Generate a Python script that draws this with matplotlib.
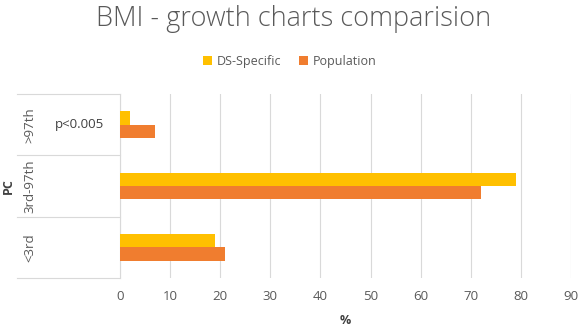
import matplotlib
matplotlib.use("Agg")
import matplotlib.pyplot as plt
import numpy as np

categories = ["<3rd", "3rd-97th", ">97th"]
ds_specific = [19, 79, 2]
population = [21, 72, 7]
series_names = ["DS-Specific", "Population"]
xticks = [0, 10, 20, 30, 40, 50, 60, 70, 80, 90]
annotation = "p<0.005"

plt.rcParams['font.family'] = ['Open Sans', 'DejaVu Sans']
W, H = 580, 327
fig = plt.figure(figsize=(W/100, H/100), dpi=100)
ax = fig.add_axes([120/W, 1-278/H, 451/W, (278-94)/H])

y = np.arange(len(categories))
bh = 0.22
c1, c2 = "#FFC000", "#F07D2F"
ax.barh(y + bh/2, ds_specific, height=bh, color=c1, label=series_names[0], zorder=3)
ax.barh(y - bh/2, population, height=bh, color=c2, label=series_names[1], zorder=3)

ax.set_xlim(0, 90)
ax.set_ylim(-0.5, len(categories)-0.5)
ax.set_xticks(xticks)
ax.set_xticklabels([str(t) for t in xticks], color="#595959", fontsize=9.5)
ax.tick_params(axis='x', length=0, pad=9)
ax.set_yticks([])
ax.grid(axis='x', color="#D9D9D9", linewidth=0.8, zorder=0)
for s in ['top', 'right', 'bottom']:
    ax.spines[s].set_visible(False)
ax.spines['left'].set_color("#D9D9D9")
ax.spines['left'].set_linewidth(0.8)

# category labels and separators
left_frac = (17-120)/451
for i, cat in enumerate(categories):
    ax.text((30-120)/451, i, cat, rotation=90, transform=ax.get_yaxis_transform(),
            ha='center', va='center', color="#595959", fontsize=9.5)
for b in np.arange(-0.5, len(categories), 1.0):
    ax.plot([left_frac, 0], [b, b], transform=ax.get_yaxis_transform(),
            color="#D9D9D9", linewidth=0.8, clip_on=False)
ax.text((79-120)/451, 2, annotation, transform=ax.get_yaxis_transform(),
        ha='center', va='center', color="#404040", fontsize=9.5)

fig.text(8/W, 1-186/H, "PC", rotation=90, ha='center', va='center',
         fontsize=9, fontweight='bold', color="#404040")
fig.text(345/W, 1-321/H, "%", ha='center', va='center',
         fontsize=9, fontweight='bold', color="#404040")

fig.text(294/W, 1-19/H, "BMI - growth charts comparision", ha='center', va='center',
         fontsize=19.5, color="#595959", fontweight='light')

ax.legend(loc='center', bbox_to_anchor=(290/W, 1-61/H), bbox_transform=fig.transFigure,
          ncol=2, frameon=False, fontsize=9, handlelength=0.7, handleheight=0.7,
          handletextpad=0.4, columnspacing=1.4, labelcolor="#595959")

fig.savefig("out.png", dpi=100)
